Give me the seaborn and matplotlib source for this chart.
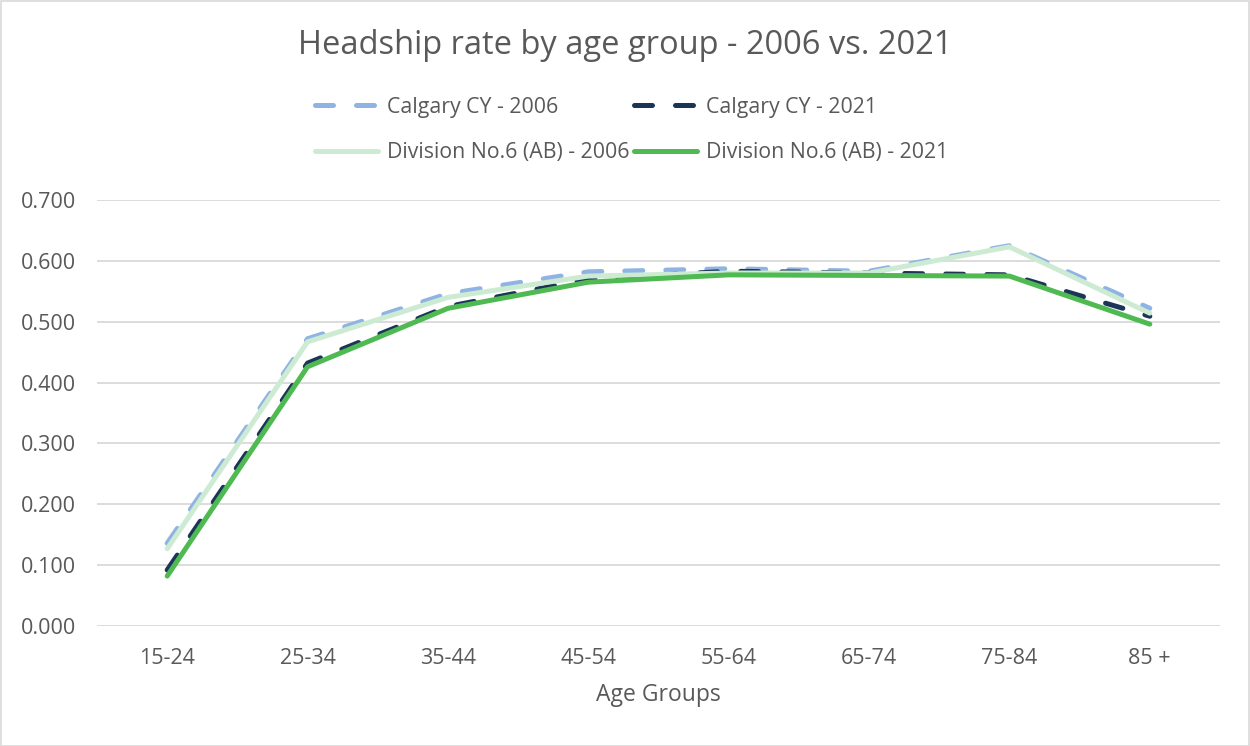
import matplotlib
matplotlib.use("Agg")
import matplotlib.pyplot as plt
from matplotlib.patches import Rectangle
import seaborn as sns
import pandas as pd

age_groups = ["15-24", "25-34", "35-44", "45-54", "55-64", "65-74", "75-84", "85 +"]
calgary_2006 = [0.136, 0.472, 0.546, 0.582, 0.587, 0.583, 0.625, 0.522]
calgary_2021 = [0.092, 0.432, 0.525, 0.570, 0.583, 0.580, 0.577, 0.509]
division_2006 = [0.127, 0.467, 0.540, 0.575, 0.580, 0.580, 0.623, 0.514]
division_2021 = [0.082, 0.426, 0.522, 0.565, 0.577, 0.576, 0.575, 0.496]

series_names = ["Calgary CY - 2006", "Calgary CY - 2021",
                "Division No.6 (AB) - 2006", "Division No.6 (AB) - 2021"]
series_values = [calgary_2006, calgary_2021, division_2006, division_2021]

sns.set_theme(style="white")
plt.rcParams["font.family"] = ["Open Sans", "DejaVu Sans"]

text_color = "#595959"
grid_color = "#D9D9D9"

styles = {
    "Calgary CY - 2006": dict(color="#8FB4E3", dashes=(3.6, 4.6)),
    "Calgary CY - 2021": dict(color="#1B3558", dashes=(3.6, 4.6)),
    "Division No.6 (AB) - 2006": dict(color="#CDEBD2", dashes=None),
    "Division No.6 (AB) - 2021": dict(color="#4FB952", dashes=None),
}

fig = plt.figure(figsize=(12.5, 7.46), dpi=100)
ax = fig.add_axes([97 / 1250, 1 - 626 / 746, (1220 - 97) / 1250, (626 - 200) / 746])

handles = {}
for name, vals in zip(series_names, series_values):
    df = pd.DataFrame({"age": list(range(len(age_groups))), "rate": vals})
    st = styles[name]
    sns.lineplot(data=df, x="age", y="rate", ax=ax, color=st["color"],
                 linewidth=3.6, sort=False, legend=False)
    line = ax.lines[-1]
    line.set_solid_capstyle("round")
    line.set_dash_capstyle("round")
    line.set_solid_joinstyle("round")
    if st["dashes"] is not None:
        line.set_dashes(st["dashes"])
    handles[name] = line

ax.set_xlim(-0.5, len(age_groups) - 0.5)
ax.set_ylim(0, 0.7)
ax.set_xticks(range(len(age_groups)))
ax.set_xticklabels(age_groups)
ax.set_yticks([i / 10 for i in range(8)])
ax.set_yticklabels([f"{i / 10:.3f}" for i in range(8)])
ax.tick_params(axis="both", length=0, labelsize=15.5, colors=text_color)
ax.tick_params(axis="y", pad=15)
ax.tick_params(axis="x", pad=16)
ax.yaxis.grid(True, color=grid_color, linewidth=1.3)
ax.set_axisbelow(True)
for s in ax.spines.values():
    s.set_visible(False)
ax.set_xlabel("Age Groups", fontsize=16.5, color=text_color, labelpad=10)
ax.set_ylabel("")

fig.text(0.5, 1 - 45 / 746, "Headship rate by age group - 2006 vs. 2021",
         ha="center", va="center", fontsize=23.5, color=text_color)

order = ["Calgary CY - 2006", "Division No.6 (AB) - 2006",
         "Calgary CY - 2021", "Division No.6 (AB) - 2021"]
leg = fig.legend([handles[n] for n in order], order, ncol=2,
                 loc="center", bbox_to_anchor=(0.505, 1 - 130 / 746),
                 frameon=False, fontsize=15.3, handlelength=3.0,
                 columnspacing=0.2, labelspacing=1.15, handletextpad=0.4)
for t in leg.get_texts():
    t.set_color(text_color)

fig.patches.append(Rectangle((0.5 / 1250, 0.5 / 746), 1 - 1.5 / 1250, 1 - 1.5 / 746,
                             transform=fig.transFigure, fill=False,
                             edgecolor=grid_color, linewidth=1.2))

fig.savefig("out.png", dpi=100)
